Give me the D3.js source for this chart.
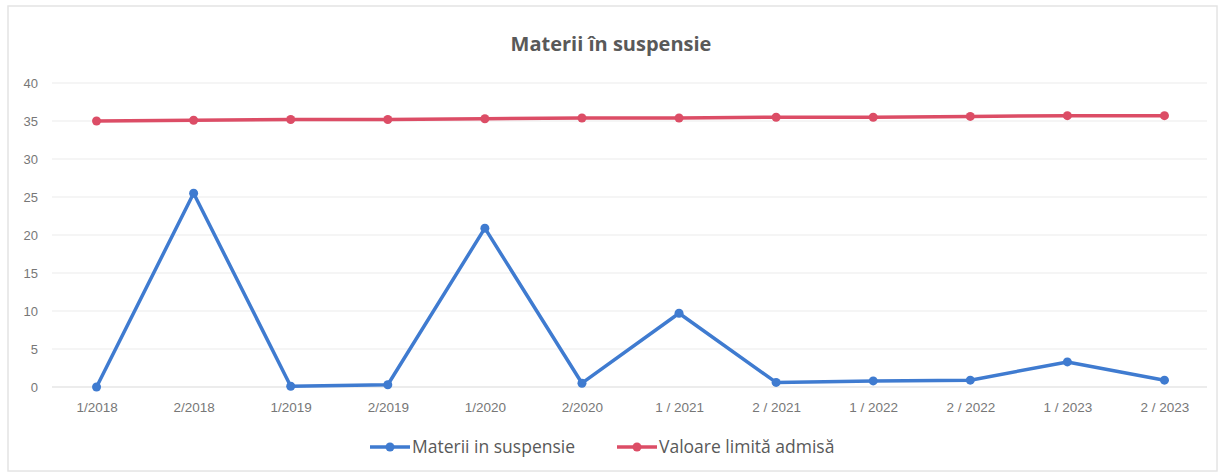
<!DOCTYPE html>
<html>
<head>
<meta charset="utf-8">
<script src="https://cdn.jsdelivr.net/npm/d3@7"></script>
<style>
  body { margin: 0; background: #fff; }
  svg { display: block; font-family: "Open Sans", "Noto Sans", sans-serif; }
</style>
</head>
<body>
<svg width="1221" height="473"></svg>
<script>
// categories (semester / year)
const categories = ["1/2018", "2/2018", "1/2019", "2/2019", "1/2020", "2/2020",
  "1 / 2021", "2 / 2021", "1 / 2022", "2 / 2022", "1 / 2023", "2 / 2023"];
// series values
const materii = [0, 25.5, 0.1, 0.3, 20.9, 0.5, 9.7, 0.6, 0.8, 0.9, 3.3, 0.9];
const limita = [35.0, 35.1, 35.2, 35.2, 35.3, 35.4, 35.4, 35.5, 35.5, 35.6, 35.7, 35.7];
const yTicks = [0, 5, 10, 15, 20, 25, 30, 35, 40];

const svg = d3.select("svg");
const W = 1221, H = 473;
const margin = {left: 48, right: 8, top: 83, bottom: 86};

// faint scan border
svg.append("rect")
  .attr("x", 8).attr("y", 6).attr("width", W - 12).attr("height", H - 8)
  .attr("fill", "#fff").attr("stroke", "#e4e4e4").attr("stroke-width", 1.5);

const x = d3.scalePoint()
  .domain(categories)
  .range([margin.left, W - margin.right])
  .padding(0.5);

const y = d3.scaleLinear()
  .domain([0, 40])
  .range([H - margin.bottom, margin.top]);

// gridlines
svg.append("g")
  .selectAll("line")
  .data(yTicks)
  .enter().append("line")
  .attr("x1", margin.left + 4).attr("x2", W - margin.right - 6)
  .attr("y1", d => y(d)).attr("y2", d => y(d))
  .attr("stroke", d => d === 0 ? "#d9d9d9" : "#ececec")
  .attr("stroke-width", 1.2);

// y axis labels
const yAxis = svg.append("g")
  .attr("transform", `translate(${margin.left - 10},0)`)
  .call(d3.axisLeft(y).tickValues(yTicks).tickSize(0).tickPadding(0));
yAxis.select(".domain").remove();
yAxis.selectAll("text")
  .attr("fill", "#777").style("font-size", "13px");

// x axis labels
const xAxis = svg.append("g")
  .attr("transform", `translate(0,${y(0) + 15})`)
  .call(d3.axisBottom(x).tickSize(0).tickPadding(0));
xAxis.select(".domain").remove();
xAxis.selectAll("text")
  .attr("fill", "#777").style("font-size", "13.5px");

// title
svg.append("text")
  .attr("x", 611).attr("y", 51)
  .attr("text-anchor", "middle")
  .attr("fill", "#595959")
  .style("font-size", "20px").style("font-weight", "bold")
  .text("Materii în suspensie");

const line = d3.line()
  .x((d, i) => x(categories[i]))
  .y(d => y(d));

const series = [
  {name: "Valoare limită admisă", values: limita, color: "#dc4d66"},
  {name: "Materii in suspensie", values: materii, color: "#3f7bd0"}
];

series.forEach(s => {
  const g = svg.append("g");
  g.append("path")
    .datum(s.values)
    .attr("d", line)
    .attr("fill", "none")
    .attr("stroke", s.color)
    .attr("stroke-width", 3.5)
    .attr("stroke-linejoin", "round");
  g.selectAll("circle")
    .data(s.values)
    .enter().append("circle")
    .attr("cx", (d, i) => x(categories[i]))
    .attr("cy", d => y(d))
    .attr("r", 4.5)
    .attr("fill", s.color);
});

// legend
const legendItems = [
  {name: "Materii in suspensie", color: "#3f7bd0", x: 370},
  {name: "Valoare limită admisă", color: "#dc4d66", x: 617}
];
const lg = svg.append("g").attr("transform", "translate(0,447)");
legendItems.forEach(d => {
  lg.append("line")
    .attr("x1", d.x).attr("x2", d.x + 40)
    .attr("y1", 0).attr("y2", 0)
    .attr("stroke", d.color).attr("stroke-width", 3.5);
  lg.append("circle")
    .attr("cx", d.x + 20).attr("cy", 0).attr("r", 4.5)
    .attr("fill", d.color);
  lg.append("text")
    .attr("x", d.x + 42).attr("y", 6)
    .attr("fill", "#595959")
    .style("font-size", "17.5px")
    .text(d.name);
});
</script>
</body>
</html>
